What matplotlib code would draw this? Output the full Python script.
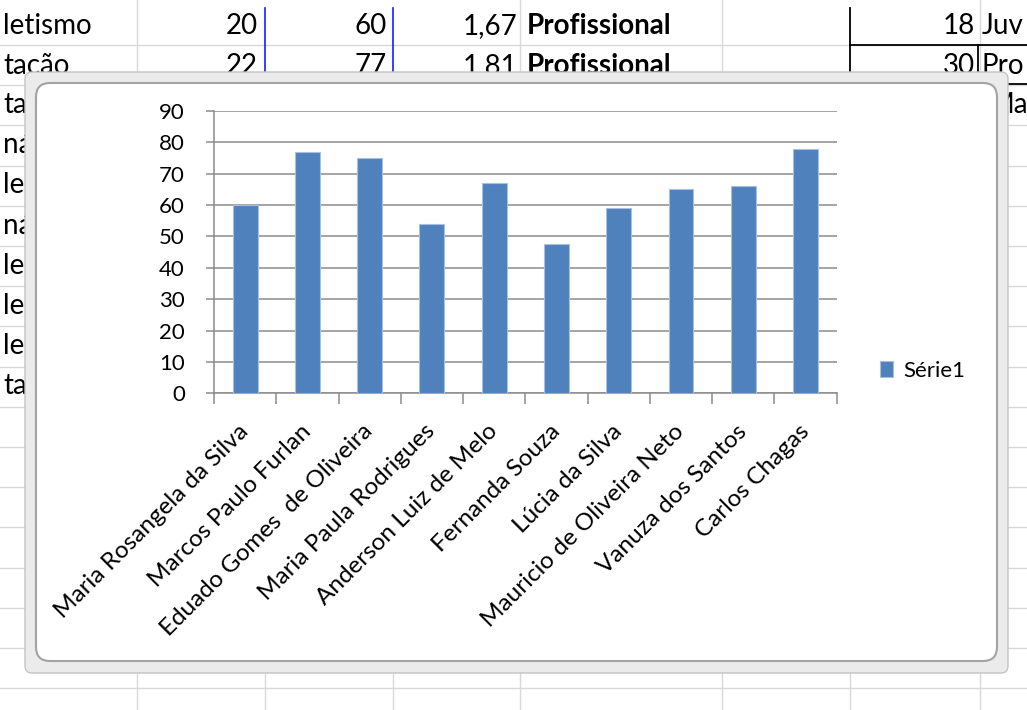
import numpy as np
import matplotlib
matplotlib.use("Agg")
import matplotlib.pyplot as plt
from matplotlib.patches import FancyBboxPatch
from matplotlib.lines import Line2D

plt.rcParams['font.family'] = ['Lato', 'DejaVu Sans']

# dados do grafico
nomes = [
    "Maria Rosangela da Silva", "Marcos Paulo Furlan", "Eduado Gomes  de Oliveira",
    "Maria Paula Rodrigues", "Anderson Luiz de Melo", "Fernanda Souza",
    "Lúcia da Silva", "Mauricio de Oliveira Neto", "Vanuza dos Santos", "Carlos Chagas",
]
pesos = [60, 77, 75, 54, 67, 47.5, 59, 65, 66, 78]
serie = "Série1"

# planilha ao fundo
linha1 = ["letismo", "20", "60", "1,67", "Profissional", "18", "Juv"]
linha2 = ["tação", "22", "77", "1,81", "Profissional", "30", "Pro"]
coluna_esq = ["tação", "nástica", "letismo", "nástica", "letismo", "letismo", "letismo", "tação"]

W, H = 1027, 710
fig = plt.figure(figsize=(W / 100, H / 100), dpi=100)
tr = fig.dpi_scale_trans


def ix(x):
    return x / 100


def iy(y):
    return (H - y) / 100


def hline(y, x0, x1, color, lw=1.0, z=0.2):
    fig.add_artist(Line2D([ix(x0), ix(x1)], [iy(y), iy(y)], transform=tr, color=color, lw=lw, zorder=z))


def vline(x, y0, y1, color, lw=1.0, z=0.2):
    fig.add_artist(Line2D([ix(x), ix(x)], [iy(y0), iy(y1)], transform=tr, color=color, lw=lw, zorder=z))


# grade da planilha
grid_c = '#d9d9d9'
for k in range(17):
    hline(45 + k * 40.2, 0, W, grid_c)
for x in [137, 520, 722, 980]:
    vline(x, 0, H, grid_c)
for x in [265, 393]:
    vline(x, 85, H, grid_c)
    vline(x, 8, 85, '#1a1aff', lw=1.2)
vline(850, 85, H, grid_c)
vline(850, 8, 85, 'black', lw=1.3)
hline(45, 850, W, 'black', lw=1.3)
vline(978, 45, 85, 'black', lw=1.3)
hline(84, 978, W, 'black', lw=1.3)

fs_cell = 20
for row, y in [(linha1, 26), (linha2, 66)]:
    fig.text(ix(3), iy(y), row[0], transform=tr, fontsize=fs_cell, va='center', zorder=0.5)
    fig.text(ix(258), iy(y), row[1], transform=tr, fontsize=fs_cell, va='center', ha='right', zorder=0.5)
    fig.text(ix(387), iy(y), row[2], transform=tr, fontsize=fs_cell, va='center', ha='right', zorder=0.5)
    fig.text(ix(517), iy(y), row[3], transform=tr, fontsize=fs_cell, va='center', ha='right', zorder=0.5)
    fig.text(ix(527), iy(y), row[4], transform=tr, fontsize=fs_cell, va='center', weight='bold', zorder=0.5)
    fig.text(ix(975), iy(y), row[5], transform=tr, fontsize=fs_cell, va='center', ha='right', zorder=0.5)
    fig.text(ix(982), iy(y), row[6], transform=tr, fontsize=fs_cell, va='center', zorder=0.5)
for k, palavra in enumerate(coluna_esq):
    fig.text(ix(3), iy(105 + k * 40.2), palavra, transform=tr, fontsize=fs_cell, va='center', zorder=0.5)
fig.text(ix(988), iy(105), "Ma", transform=tr, fontsize=fs_cell, va='center', zorder=0.5)

# moldura do grafico
outer = FancyBboxPatch((ix(25), iy(673)), ix(1008) - ix(25), iy(72) - iy(673),
                       boxstyle='round,pad=0,rounding_size=0.07', transform=tr,
                       facecolor='#ebebeb', edgecolor='#c4c4c4', lw=1.0, zorder=1)
inner = FancyBboxPatch((ix(36), iy(661)), ix(997) - ix(36), iy(83) - iy(661),
                       boxstyle='round,pad=0,rounding_size=0.14', transform=tr,
                       facecolor='white', edgecolor='#a3a3a3', lw=1.5, zorder=1.1)
fig.add_artist(outer)
fig.add_artist(inner)

# eixo
ax = fig.add_axes([214 / W, 1 - 393.3 / H, (836.7 - 214) / W, (393.3 - 111) / H])
ax.set_zorder(10)
ax.set_facecolor('none')

x = np.arange(len(nomes))
barras = ax.bar(x, pesos, width=0.4, color='#4F81BD', edgecolor='#a8c0df', linewidth=0.8, zorder=3)

ax.set_ylim(0, 90)
ax.set_yticks(range(0, 91, 10))
ax.set_xlim(-0.5, len(nomes) - 0.5)
ax.yaxis.grid(True, color='#8c8c8c', linewidth=1.1)
ax.set_axisbelow(True)

for lado in ['top', 'right']:
    ax.spines[lado].set_visible(False)
for lado in ['left', 'bottom']:
    ax.spines[lado].set_color('#8c8c8c')
    ax.spines[lado].set_linewidth(1.1)

ax.set_xticks(x)
ax.set_xticklabels(nomes, rotation=45, ha='right', va='center', rotation_mode='anchor', fontsize=17.5)
ax.set_xticks(np.arange(-0.5, len(nomes), 1), minor=True)
ax.tick_params(axis='x', which='major', length=0, pad=25)
ax.tick_params(axis='x', which='minor', length=8, width=1.1, color='#8c8c8c')
ax.tick_params(axis='y', length=6, width=1.1, color='#8c8c8c', labelsize=16, pad=15)

leg = fig.legend([barras], [serie], loc='center left', bbox_to_anchor=(860 / W, 1 - 371 / H),
                 frameon=False, fontsize=16, handlelength=0.6, handleheight=0.7, handletextpad=0.45)
leg.set_zorder(11)

fig.savefig('out.png', dpi=100)
